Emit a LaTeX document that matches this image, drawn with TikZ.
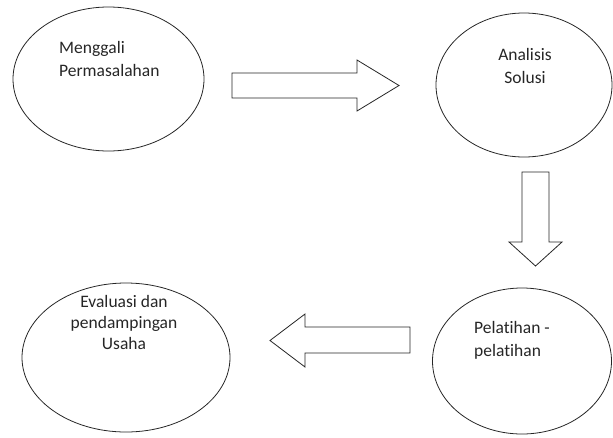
\documentclass[tikz,border=0pt]{standalone}
\usepackage{fontspec}
\setmainfont[Ligatures={NoCommon,NoRare}]{Carlito}
\usetikzlibrary{shapes.geometric}
\begin{document}
\begin{tikzpicture}[x=1pt,y=-1pt,
  oval/.style={ellipse,draw=black!85,line width=0.8pt,inner sep=0pt},
  blockarrow/.style={draw=black!85,line width=0.8pt,fill=white,line join=miter},
  lbl/.style={inner sep=0pt,font=\fontsize{17.5}{23}\selectfont,text=black!85}]
\useasboundingbox (0,0) rectangle (613,437);
% ellipses
\node[oval,minimum width=191pt,minimum height=144pt] (e1) at (108.5,79) {};
\node[oval,minimum width=176pt,minimum height=144pt] (e2) at (524,85) {};
\node[oval,minimum width=179pt,minimum height=146pt] (e3) at (522,361) {};
\node[oval,minimum width=208pt,minimum height=149pt] (e4) at (126,357.5) {};
% texts
\node[lbl,anchor=north west,align=left] (t1) at (59,41) {Menggali\\Permasalahan};
\node[lbl,anchor=north,align=center] (t2) at (525,48) {Analisis\\Solusi};
\node[lbl,anchor=north west,align=left] (t3) at (474,321) {Pelatihan -\\pelatihan};
\node[lbl,anchor=north,align=center,font=\fontsize{17.5}{21}\selectfont] (t4) at (124,295) {Evaluasi dan\\pendampingan\\Usaha};
% block arrows
\draw[blockarrow] (232,73) -- (357,73) -- (357,60) -- (399,85.5) -- (357,111) -- (357,98) -- (232,98) -- cycle;
\draw[blockarrow] (522,172) -- (549,172) -- (549,242) -- (562,242) -- (535.5,266) -- (509,242) -- (522,242) -- cycle;
\draw[blockarrow] (410,327) -- (305,327) -- (305,314) -- (270,340.5) -- (305,367) -- (305,353) -- (410,353) -- cycle;
\end{tikzpicture}
\end{document}
